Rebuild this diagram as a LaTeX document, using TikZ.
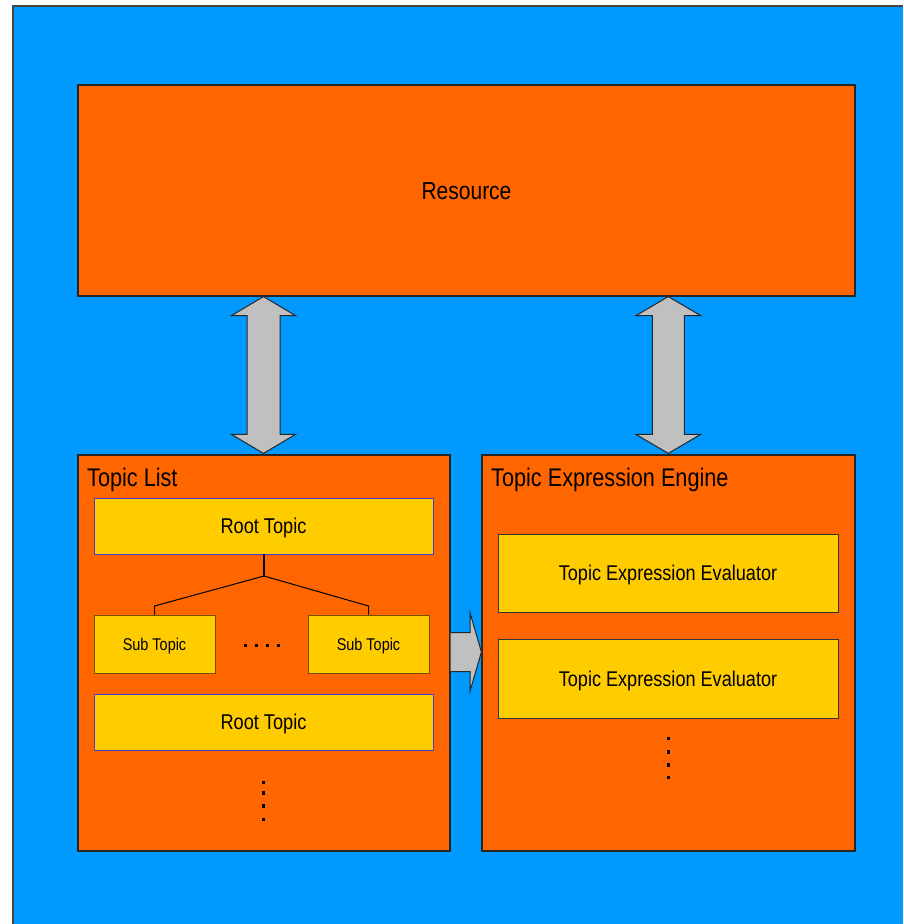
\documentclass[tikz,border=0pt]{standalone}
\usepackage{fontspec}
\setmainfont{Liberation Sans}[FakeStretch=0.85]
\usetikzlibrary{calc}
\definecolor{bgblue}{RGB}{0,153,255}
\definecolor{boxorange}{RGB}{255,102,0}
\definecolor{boxyellow}{RGB}{255,204,0}
\definecolor{arrowgray}{RGB}{192,192,192}
\definecolor{rootedge}{RGB}{70,60,210}
\definecolor{subedge}{RGB}{115,80,0}
\definecolor{frameedge}{RGB}{70,70,70}

\tikzset{
  panel/.style={draw=black!85, line width=1.2pt, fill=boxorange, inner sep=0pt, text depth=0pt},
  roottopic/.style={draw=rootedge, line width=0.9pt, fill=boxyellow, inner sep=0pt, text depth=0pt,
    minimum width=339pt, minimum height=56pt, font=\fontsize{21.4}{24}\selectfont},
  subtopic/.style={draw=subedge, line width=1pt, fill=boxyellow, inner sep=0pt, text depth=0pt,
    minimum width=121pt, minimum height=58pt, font=\fontsize{17}{20}\selectfont},
  evaluator/.style={draw=black!80, line width=1pt, fill=boxyellow, inner sep=0pt, text depth=0pt,
    minimum width=340pt, minimum height=78pt, font=\fontsize{21.3}{24}\selectfont},
  paneltitle/.style={anchor=base west, inner sep=0pt, font=\fontsize{25.5}{28}\selectfont},
  bigarrow/.style={fill=arrowgray, draw=black!85, line width=1pt, line join=miter},
  treeline/.style={draw=black, line width=1pt},
  dotmark/.style={fill=black}
}

\begin{document}
\begin{tikzpicture}[x=1pt, y=-1pt]
  \useasboundingbox (0,0) rectangle (903,924);
  \fill[white] (0,0) rectangle (903,924);

  % backdrop
  \fill[bgblue] (13,6) rectangle (903,924);
  \draw[frameedge, line width=1.5pt] (13,924) -- (13,6) -- (903,6);

  % top block
  \node[panel, minimum width=777pt, minimum height=211pt,
        font=\fontsize{24.7}{28}\selectfont] (res) at (466.5,190.5) {Resource};

  % lower panels
  \node[panel, minimum width=372pt, minimum height=396pt] (tl) at (264,653) {};
  \node[panel, minimum width=373pt, minimum height=396pt] (eng) at (668.5,653) {};
  \node[paneltitle] (tltitle) at (87,486) {Topic List};
  \node[paneltitle] (engtitle) at (491,486.5) {Topic Expression Engine};

  % topic list contents
  \node[roottopic] (root1) at (263.5,526) {Root Topic};
  \node[subtopic] (subL) at (154.5,644) {Sub Topic};
  \node[subtopic] (subR) at (368.5,644) {Sub Topic};
  \node[roottopic] (root2) at (263.5,722) {Root Topic};

  % tree from the first root to its sub topics
  \coordinate (junc) at (264,576);
  \coordinate (kneeL) at (154.5,606);
  \coordinate (kneeR) at (368.5,606);
  \draw[treeline, line width=1.5pt] (root1.south -| junc) -- (junc);
  \draw[treeline] (junc) -- (kneeL) -- (subL.north);
  \draw[treeline] (junc) -- (kneeR) -- (subR.north);

  % continuation dots
  \foreach \x in {245.7,256.6,267.5,278.4}
    \fill[dotmark] (\x-1.5,643.5) rectangle (\x+1.5,647);
  \foreach \y in {782.3,792.7,806,819.3}
    \fill[dotmark] (262.2,\y-1.8) rectangle (265.2,\y+1.8);

  % engine contents
  \node[evaluator] (eval1) at (668,573) {Topic Expression Evaluator};
  \node[evaluator, minimum height=79pt] (eval2) at (668,678.5) {Topic Expression Evaluator};
  \foreach \y in {738.3,751.7,765,777.3}
    \fill[dotmark] (667.2,\y-1.8) rectangle (670.2,\y+1.8);

  % two-way arrows between the resource and the panels
  \coordinate (la1) at (res.south -| 263.5,0);
  \coordinate (la2) at (tl.north -| 263.5,0);
  \draw[bigarrow] (la1) -- ++(32,19) -- ++(-15.5,0)
     -- ($(la2)+(16.5,-20)$) -- ++(15.5,0) -- ($(la2)+(0,-1)$)
     -- ++(-32,-19) -- ++(15.5,0) -- ($(la1)+(-16.5,19)$) -- ++(-15.5,0) -- cycle;

  \coordinate (ra1) at (res.south -| 668.3,0);
  \coordinate (ra2) at (eng.north -| 668.3,0);
  \draw[bigarrow] (ra1) -- ++(32.3,19) -- ++(-16.3,0)
     -- ($(ra2)+(16,-20)$) -- ++(16.3,0) -- ($(ra2)+(0,-1)$)
     -- ++(-32.3,-19) -- ++(16.3,0) -- ($(ra1)+(-16,19)$) -- ++(-16.3,0) -- cycle;

  % arrow from the topic list to the engine
  \coordinate (sa1) at (tl.east |- 0,652);
  \coordinate (sa2) at (eng.west |- 0,652);
  \draw[bigarrow] ($(sa1)+(0,-19.5)$) -- ($(sa2)+(-11.3,-19.5)$) -- ($(sa2)+(-11.3,-39)$)
     -- (sa2) -- ($(sa2)+(-11.3,39)$) -- ($(sa2)+(-11.3,19.5)$) -- ($(sa1)+(0,19.5)$);
\end{tikzpicture}
\end{document}
